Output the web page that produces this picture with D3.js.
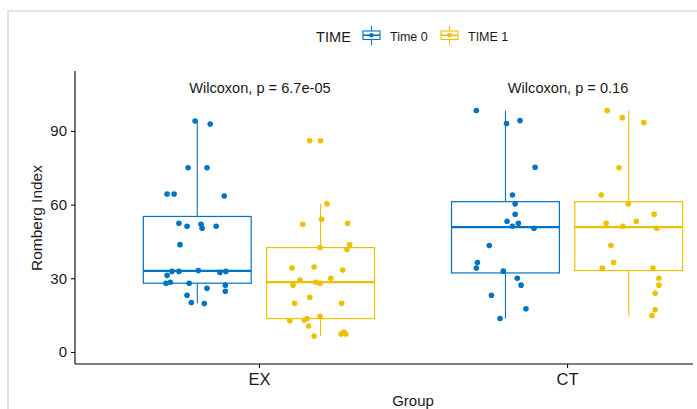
<!DOCTYPE html>
<html><head><meta charset="utf-8">
<script src="https://cdn.jsdelivr.net/npm/d3@7"></script>
<style>
body{margin:0;background:#fff}
svg{display:block}
text{font-family:"Liberation Sans", Arial, sans-serif; fill:#1a1a1a}
</style>
</head><body><svg id="c" width="697" height="409"></svg>
<script>
// ---- data ----
const groups = ["EX", "CT"];
const times = ["Time 0", "TIME 1"];
const colors = ["#0073C2", "#EFC000"];
const yTicks = [0, 30, 60, 90];
const pLabels = ["Wilcoxon, p = 6.7e-05", "Wilcoxon, p = 0.16"];

const exTime0 = [94.0, 92.8, 75.0, 75.0, 64.3, 64.3, 63.5, 52.4, 51.2, 52.0, 50.4, 51.2, 43.7, 32.8,
  32.8, 33.2, 32.4, 32.8, 31.2, 28.0, 28.4, 28.0, 27.2, 25.9, 24.7, 23.1, 20.1, 19.7];
const exTime0Jitter = [-0.02, 0.12, -0.085, 0.09, -0.28, -0.215, 0.25, -0.17, -0.095, 0.035, 0.045, 0.175,
  -0.16, -0.235, -0.17, 0.01, 0.21, 0.265, -0.28, -0.29, -0.25, -0.075, 0.26, 0.09, 0.26, -0.095, -0.055, 0.065];

const exTime1 = [86.0, 86.0, 60.3, 54.0, 52.0, 52.4, 43.7, 42.5, 41.7, 34.2, 34.6, 33.4, 30.0, 29.3, 28.4,
  28.0, 27.2, 22.3, 19.8, 19.8, 14.5, 13.6, 13.0, 12.7, 10.6, 6.5, 7.3, 8.1, 7.3];
const exTime1Jitter = [-0.1, 0.0, 0.06, 0.01, -0.165, 0.25, 0.27, -0.005, 0.245, -0.265, -0.06, 0.205, 0.095,
  -0.19, -0.045, -0.005, -0.255, -0.1, -0.24, 0.195, -0.005, -0.125, -0.15, -0.285, -0.11, -0.06, 0.19, 0.215, 0.235];

const ctTime0 = [98.3, 93.0, 94.2, 75.2, 63.9, 60.3, 56.1, 53.2, 52.4, 51.2, 50.4, 43.3, 36.4, 34.2, 32.9,
  30.0, 27.2, 23.1, 17.6, 13.6];
const ctTime0Jitter = [-0.27, 0.01, 0.135, 0.275, 0.065, 0.09, 0.09, 0.015, 0.12, 0.065, 0.265, -0.15, -0.26,
  -0.27, -0.02, 0.11, 0.145, -0.13, 0.19, -0.05];

const ctTime1 = [98.3, 95.4, 93.4, 75.0, 63.9, 60.3, 56.1, 53.2, 52.4, 51.2, 50.4, 43.3, 36.4, 34.2, 34.2,
  30.0, 27.2, 23.9, 17.2, 14.8];
const ctTime1Jitter = [-0.2, -0.06, 0.14, -0.09, -0.255, -0.005, 0.235, 0.07, -0.21, -0.055, 0.26, -0.165,
  -0.14, -0.245, 0.225, 0.28, 0.28, 0.245, 0.245, 0.215];

const series = [
  {group: "EX", time: 0, values: exTime0, jitter: exTime0Jitter},
  {group: "EX", time: 1, values: exTime1, jitter: exTime1Jitter},
  {group: "CT", time: 0, values: ctTime0, jitter: ctTime0Jitter},
  {group: "CT", time: 1, values: ctTime1, jitter: ctTime1Jitter}
];

// ---- layout ----
const svg = d3.select("#c");
const plotL = 75, plotB = 364, plotT = 71, plotR = 693;
const FONT = '"Liberation Sans", Arial, sans-serif';

const x = d3.scalePoint().domain(groups).range([74, 752]).padding(0.6);
const step = x.step();
const dodge = 0.2 * step;
const boxW = 0.35 * step;
const y = d3.scaleLinear().domain([-4.9, 114.4]).range([plotB, plotT]);

// frame
svg.append("path").attr("d", "M8,409V11H697").attr("fill", "none")
  .attr("stroke", "#e3e3e3").attr("stroke-width", 2);

// boxes
function stats(vals) {
  const s = vals.slice().sort(d3.ascending);
  const q1 = d3.quantileSorted(s, 0.25), med = d3.quantileSorted(s, 0.5), q3 = d3.quantileSorted(s, 0.75);
  const iqr = q3 - q1;
  const lo = d3.min(s.filter(v => v >= q1 - 1.5 * iqr));
  const hi = d3.max(s.filter(v => v <= q3 + 1.5 * iqr));
  return {q1, med, q3, lo, hi};
}

series.forEach(sr => {
  const cx = x(sr.group) + (sr.time === 0 ? -dodge : dodge);
  const col = colors[sr.time];
  const st = stats(sr.values);
  const g = svg.append("g");
  g.append("line").attr("x1", cx).attr("x2", cx).attr("y1", y(st.q3)).attr("y2", y(st.hi))
    .attr("stroke", col).attr("stroke-width", 1.1);
  g.append("line").attr("x1", cx).attr("x2", cx).attr("y1", y(st.q1)).attr("y2", y(st.lo))
    .attr("stroke", col).attr("stroke-width", 1.1);
  g.append("rect").attr("x", cx - boxW / 2).attr("width", boxW)
    .attr("y", y(st.q3)).attr("height", y(st.q1) - y(st.q3))
    .attr("fill", "#fff").attr("stroke", col).attr("stroke-width", 1.2);
  g.append("line").attr("x1", cx - boxW / 2).attr("x2", cx + boxW / 2)
    .attr("y1", y(st.med)).attr("y2", y(st.med)).attr("stroke", col).attr("stroke-width", 2.3);
});

// points
series.forEach(sr => {
  const cx = x(sr.group) + (sr.time === 0 ? -dodge : dodge);
  svg.append("g").selectAll("circle").data(sr.values).join("circle")
    .attr("cx", (d, i) => cx + sr.jitter[i] * boxW)
    .attr("cy", d => y(d))
    .attr("r", 2.8)
    .attr("fill", colors[sr.time]);
});

// axes
const yAxis = svg.append("g").attr("transform", `translate(${plotL},0)`)
  .call(d3.axisLeft(y).tickValues(yTicks).tickSize(4).tickPadding(4));
yAxis.select(".domain").remove();
yAxis.selectAll("line").attr("stroke", "#000");
yAxis.selectAll("text").style("font-size", "15px").attr("fill", "#1a1a1a").style("font-family", FONT);
svg.append("line").attr("x1", plotL).attr("x2", plotL).attr("y1", plotT).attr("y2", plotB)
  .attr("stroke", "#000").attr("stroke-width", 1.1);

const xAxis = svg.append("g").attr("transform", `translate(0,${plotB})`)
  .call(d3.axisBottom(x).tickSize(4).tickPadding(5));
xAxis.select(".domain").remove();
xAxis.selectAll("line").attr("stroke", "#000");
xAxis.selectAll("text").style("font-size", "16.5px").attr("fill", "#1a1a1a").style("font-family", FONT);
svg.append("line").attr("x1", plotL).attr("x2", plotR).attr("y1", plotB).attr("y2", plotB)
  .attr("stroke", "#000").attr("stroke-width", 1.1);

// axis titles
svg.append("text").attr("x", (74 + 752) / 2).attr("y", 406)
  .attr("text-anchor", "middle").style("font-size", "15px").text("Group");
svg.append("text").attr("transform", "translate(42,218) rotate(-90)")
  .attr("text-anchor", "middle").style("font-size", "15.5px").text("Romberg Index");

// p labels
groups.forEach((g, i) => {
  svg.append("text").attr("x", x(g) + 1).attr("y", 93).attr("text-anchor", "middle")
    .style("font-size", "14.6px").text(pLabels[i]);
});

// legend
const leg = svg.append("g");
leg.append("text").attr("x", 316).attr("y", 42).style("font-size", "14.6px").text("TIME");
const keyX = [363, 441], labX = [390, 468];
times.forEach((t, i) => {
  const kx = keyX[i], col = colors[i], cx = kx + 8.5;
  leg.append("line").attr("x1", cx).attr("x2", cx).attr("y1", 26).attr("y2", 45)
    .attr("stroke", col).attr("stroke-width", 1.1);
  leg.append("rect").attr("x", kx).attr("y", 31).attr("width", 17).attr("height", 8.5)
    .attr("fill", "#fff").attr("stroke", col).attr("stroke-width", 1.1);
  leg.append("line").attr("x1", kx).attr("x2", kx + 17).attr("y1", 35.25).attr("y2", 35.25)
    .attr("stroke", col).attr("stroke-width", 1.6);
  leg.append("circle").attr("cx", cx).attr("cy", 35.25).attr("r", 2.3).attr("fill", col);
  leg.append("text").attr("x", labX[i]).attr("y", 40.5).style("font-size", "12.5px").text(t);
});
</script>
</body></html>
